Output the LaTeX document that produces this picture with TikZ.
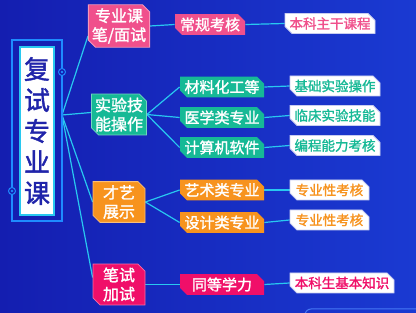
\documentclass[tikz,border=0pt]{standalone}
\usepackage{fontspec}
\setmainfont{Noto Sans CJK SC}[AutoFakeBold=1.5]
\usetikzlibrary{shapes.misc}
\definecolor{bgA}{RGB}{20,30,176}
\definecolor{bgB}{RGB}{26,58,210}
\definecolor{pinkA}{RGB}{240,80,140}
\definecolor{tealA}{RGB}{22,185,150}
\definecolor{orangeA}{RGB}{247,147,30}
\definecolor{redA}{RGB}{240,15,105}
\definecolor{rootTxt}{RGB}{32,36,170}
\definecolor{cyanL}{RGB}{40,200,240}
\definecolor{frameB}{RGB}{30,140,255}
\definecolor{lav}{RGB}{200,205,240}
\pgfdeclarelayer{bg}
\pgfsetlayers{bg,main}
\begin{document}
\begin{tikzpicture}[x=1pt,y=-1pt,
  box/.style={chamfered rectangle, chamfered rectangle corners={north east,south west},
    chamfered rectangle xsep=3.5pt, chamfered rectangle ysep=3.5pt, inner sep=0pt,
    text=white, line width=0.8pt},
  lone/.style={box, minimum width=52pt, minimum height=39pt, align=center,
    font=\bfseries\fontsize{16}{19}\selectfont},
  ltwo/.style={box, minimum width=84pt, minimum height=20pt,
    font=\bfseries\fontsize{15}{18}\selectfont},
  lw/.style={box, fill=white, draw=lav, minimum height=20pt,
    font=\bfseries\fontsize{13.5}{16}\selectfont},
  conn/.style={draw=cyanL, line width=1.2pt},
  ring/.style={circle, draw=frameB, fill=bgA, line width=1pt, minimum size=7pt, inner sep=0pt}]
\useasboundingbox (0,0) rectangle (416,313);
\begin{pgfonlayer}{bg}
  \fill[left color=bgA, right color=bgB] (0,0) rectangle (416,313);
  \begin{scope}
    \clip (0,0) rectangle (416,313);
    \draw[draw={rgb,255:red,70;green,120;blue,245}, line width=1pt, rounded corners=6pt] (305,309) rectangle (440,340);
  \end{scope}
\end{pgfonlayer}

% root
\draw[frameB, line width=1.4pt] (12,40) rectangle (62,221);
\node[draw=cyanL, line width=2pt, fill=white, minimum width=34pt, minimum height=168pt,
  inner sep=0pt, align=center, text=rootTxt, font=\bfseries\fontsize{26}{31}\selectfont]
  (root) at (37,131) {复\\试\\专\\业\\课};
\node[ring] (r1) at (62,72) {};
\fill[frameB] (r1.center) circle (1.3pt);
\node[ring] (r2) at (12,191) {};
\fill[frameB] (r2.center) circle (1.3pt);
\coordinate (hub) at (62,115);

% level 1
\node[lone, fill=pinkA, draw=pinkA!60!white] (A) at (119,26) {专业课\\笔/面试};
\node[lone, fill=tealA, draw=tealA!60!white] (B) at (119,114.5) {实验技\\能操作};
\node[lone, fill=orangeA, draw=orangeA!60!white] (C) at (119,202) {才艺\\展示};
\node[lone, fill=redA, draw=redA!60!white] (D) at (119,284.5) {笔试\\加试};

% level 2
\node[ltwo, fill=pinkA, minimum width=70pt] (A1) at (210,24.5) {常规考核};
\node[ltwo, fill=tealA] (B1) at (222,87) {材料化工等};
\node[ltwo, fill=tealA] (B2) at (222,117.5) {医学类专业};
\node[ltwo, fill=tealA] (B3) at (222,147.5) {计算机软件};
\node[ltwo, fill=orangeA] (C1) at (222,190) {艺术类专业};
\node[ltwo, fill=orangeA] (C2) at (222,222.5) {设计类专业};
\node[ltwo, fill=redA] (D1) at (222,284.5) {同等学力};

% level 3
\node[lw, text=pinkA, minimum width=90pt] (A1w) at (330,23.5) {本科主干课程};
\node[lw, text=tealA, minimum width=90pt] (B1w) at (335,86) {基础实验操作};
\node[lw, text=tealA, minimum width=90pt] (B2w) at (335,115.5) {临床实验技能};
\node[lw, text=tealA, minimum width=90pt] (B3w) at (335,145.5) {编程能力考核};
\node[lw, text=orangeA, minimum width=79pt] (C1w) at (329.5,190) {专业性考核};
\node[lw, text=orangeA, minimum width=79pt] (C2w) at (329.5,220) {专业性考核};
\node[lw, text=redA, minimum width=104pt] (D1w) at (342,283) {本科生基本知识};

\begin{pgfonlayer}{bg}
  \draw[conn] (hub) -- ([yshift=-10pt]A.west);
  \draw[conn] (hub) -- ([yshift=2pt]B.west);
  \draw[conn] (hub) -- (C.west);
  \draw[conn] (hub) -- ([yshift=7pt]D.west);
  \draw[conn] (A.east) -- (A1.west);
  \draw[conn] (B.east) -- (B1.west);
  \draw[conn] (B.east) -- (B2.west);
  \draw[conn] (B.east) -- (B3.west);
  \draw[conn] (C.east) -- (C1.west);
  \draw[conn] (C.east) -- (C2.west);
  \draw[conn] (D.east) -- (D1.west);
  \draw[conn] (A1.east) -- (A1w.west);
  \draw[conn] (B1.east) -- (B1w.west);
  \draw[conn] (B2.east) -- (B2w.west);
  \draw[conn] (B3.east) -- (B3w.west);
  \draw[conn] (C1.east) -- (C1w.west);
  \draw[conn] (C2.east) -- (C2w.west);
  \draw[conn] (D1.east) -- (D1w.west);
\end{pgfonlayer}
\end{tikzpicture}
\end{document}
